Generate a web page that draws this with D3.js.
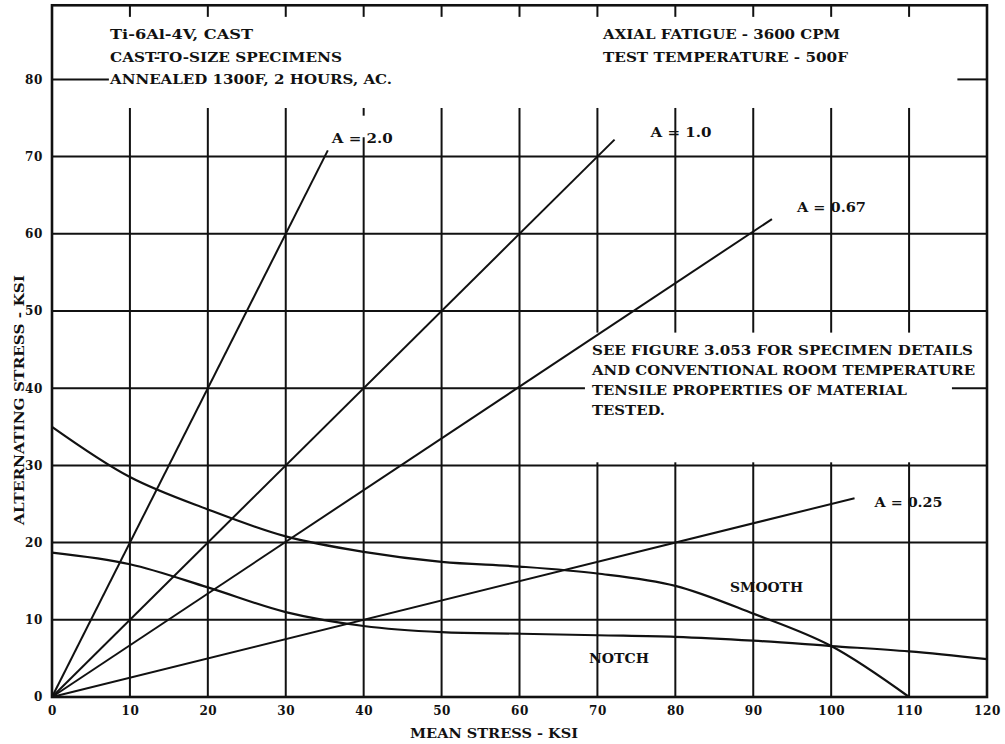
<!DOCTYPE html>
<html>
<head>
<meta charset="utf-8">
<script src="https://cdn.jsdelivr.net/npm/d3@7"></script>
<style>
  html, body { margin: 0; padding: 0; background: #fff; }
  svg { display: block; }
  text { font-family: "DejaVu Serif", "Liberation Serif", serif; font-weight: bold; fill: #111; }
</style>
</head>
<body>
<script>
// ---------------- DATA ----------------
const xTicks = [0, 10, 20, 30, 40, 50, 60, 70, 80, 90, 100, 110, 120];
const yTicks = [0, 10, 20, 30, 40, 50, 60, 70, 80];

// Smooth specimens curve (mean stress, alternating stress)
const smoothMean = [0, 10, 20, 30, 40, 50, 60, 70, 80, 90, 100, 110];
const smoothAlt  = [35.0, 28.5, 24.3, 20.8, 18.8, 17.5, 16.9, 16.0, 14.4, 10.8, 6.6, 0];

// Notched specimens curve
const notchMean = [0, 10, 20, 30, 40, 50, 60, 70, 80, 90, 100, 110, 120];
const notchAlt  = [18.7, 17.2, 14.2, 11.0, 9.2, 8.4, 8.2, 8.0, 7.8, 7.3, 6.6, 5.9, 4.9];

// Stress-ratio (A) lines: A = alternating / mean, drawn from origin to end mean stress
const ratioNames  = ["A = 2.0", "A = 1.0", "A = 0.67", "A = 0.25"];
const ratioValues = [2.0, 1.0, 0.67, 0.25];
const ratioEndMean = [35.4, 72.2, 92.4, 103.0];

const curveNames = ["SMOOTH", "NOTCH"];

const topLeftLines  = ["Ti-6Al-4V, CAST", "CAST-TO-SIZE SPECIMENS", "ANNEALED 1300F, 2 HOURS, AC."];
const topRightLines = ["AXIAL FATIGUE - 3600 CPM", "TEST TEMPERATURE - 500F"];
const noteLines = ["SEE FIGURE 3.053 FOR SPECIMEN DETAILS",
                   "AND CONVENTIONAL ROOM TEMPERATURE",
                   "TENSILE PROPERTIES OF MATERIAL",
                   "TESTED."];
const xTitle = "MEAN STRESS - KSI";
const yTitle = "ALTERNATING STRESS - KSI";

// ---------------- LAYOUT ----------------
const W = 1005, H = 744;
const yTop = 89.6;  // top of frame in data units

const x = d3.scaleLinear().domain([0, 120]).range([52, 987]);
const y = d3.scaleLinear().domain([0, 80]).range([697, 79.4]);

const svg = d3.select("body").append("svg").attr("width", W).attr("height", H);

// grid segments (gaps where annotations sit)
function vSegments(v) {
  const top = [88.1, yTop];
  if (v === 40) return [[0, 72.5], [75.3, 76.3], top];
  if (v >= 70) return [[0, 30.4], [47.2, 76.3], top];
  return [[0, 76.3], top];
}
function hSegments(v) {
  if (v === 40) return [[0, 68.4], [115.5, 120]];
  if (v === 80) return [[0, 7.3], [116.2, 120]];
  return [[0, 120]];
}

const grid = svg.append("g").attr("stroke", "#111").attr("stroke-width", 2).attr("fill", "none");
xTicks.filter(v => v > 0 && v < 120).forEach(v => {
  vSegments(v).forEach(s => {
    grid.append("line").attr("x1", x(v)).attr("x2", x(v)).attr("y1", y(s[0])).attr("y2", y(s[1]));
  });
});
yTicks.filter(v => v > 0).forEach(v => {
  hSegments(v).forEach(s => {
    grid.append("line").attr("y1", y(v)).attr("y2", y(v)).attr("x1", x(s[0])).attr("x2", x(s[1]));
  });
});

// frame
svg.append("rect")
  .attr("x", x(0)).attr("y", y(yTop))
  .attr("width", x(120) - x(0)).attr("height", y(0) - y(yTop))
  .attr("fill", "none").attr("stroke", "#111").attr("stroke-width", 2.6);

// axes (labels only, via d3 axis)
const xAxis = d3.axisBottom(x).tickValues(xTicks).tickSize(0).tickPadding(9).tickFormat(d3.format("d"));
const gx = svg.append("g").attr("transform", `translate(0,${y(0)})`).call(xAxis);
gx.select(".domain").remove();
gx.selectAll("text").attr("font-size", 12).attr("letter-spacing", 0.6)
  .style("font-family", '"DejaVu Serif", serif').style("font-weight", "bold").attr("fill", "#111");

const yAxis = d3.axisLeft(y).tickValues(yTicks).tickSize(0).tickPadding(9).tickFormat(d3.format("d"));
const gy = svg.append("g").attr("transform", `translate(${x(0)},0)`).call(yAxis);
gy.select(".domain").remove();
gy.selectAll("text").attr("font-size", 12).attr("letter-spacing", 0.6)
  .style("font-family", '"DejaVu Serif", serif').style("font-weight", "bold").attr("fill", "#111");

// ratio lines
const lineGen = d3.line().x(d => x(d[0])).y(d => y(d[1]));
const ratioLabelOffset = [[4, -7], [36, -3], [25, -7], [20, 9]];
const ratioLabelWidth = [61, 61, 69, 68];
ratioValues.forEach((a, i) => {
  const pts = [[0, 0], [ratioEndMean[i], a * ratioEndMean[i]]];
  svg.append("path").attr("d", lineGen(pts)).attr("fill", "none")
    .attr("stroke", "#111").attr("stroke-width", 2);
  svg.append("text")
    .attr("x", x(pts[1][0]) + ratioLabelOffset[i][0])
    .attr("y", y(pts[1][1]) + ratioLabelOffset[i][1])
    .attr("font-size", 12.5)
    .attr("textLength", ratioLabelWidth[i]).attr("lengthAdjust", "spacingAndGlyphs")
    .text(ratioNames[i]);
});

// curves
const curveGen = d3.line().x(d => x(d[0])).y(d => y(d[1])).curve(d3.curveCatmullRom.alpha(0.5));
const smoothPts = smoothMean.map((m, i) => [m, smoothAlt[i]]);
const notchPts = notchMean.map((m, i) => [m, notchAlt[i]]);
[smoothPts, notchPts].forEach(p => {
  svg.append("path").attr("d", curveGen(p)).attr("fill", "none")
    .attr("stroke", "#111").attr("stroke-width", 2.2);
});
svg.append("text").attr("x", 730).attr("y", 592).attr("font-size", 13)
  .attr("textLength", 73).attr("lengthAdjust", "spacingAndGlyphs").text(curveNames[0]);
svg.append("text").attr("x", 589).attr("y", 663).attr("font-size", 13)
  .attr("textLength", 60).attr("lengthAdjust", "spacingAndGlyphs").text(curveNames[1]);

// annotation blocks
function block(lines, x0, baselines, widths) {
  lines.forEach((t, i) => {
    svg.append("text").attr("x", x0).attr("y", baselines[i]).attr("font-size", 13.5)
      .attr("textLength", widths[i]).attr("lengthAdjust", "spacingAndGlyphs").text(t);
  });
}
block(topLeftLines, 110, [39, 61.5, 84], [143, 232, 282]);
block(topRightLines, 603, [39, 61.5], [237, 245]);
block(noteLines, 592, [355, 375, 395, 415], [381, 383, 315, 73]);

// axis titles
svg.append("text").attr("x", 410).attr("y", 738).attr("font-size", 13)
  .attr("textLength", 168).attr("lengthAdjust", "spacingAndGlyphs").text(xTitle);
svg.append("text").attr("transform", "translate(24,400) rotate(-90)")
  .attr("text-anchor", "middle").attr("font-size", 13)
  .attr("textLength", 250).attr("lengthAdjust", "spacingAndGlyphs").text(yTitle);
</script>
</body>
</html>
